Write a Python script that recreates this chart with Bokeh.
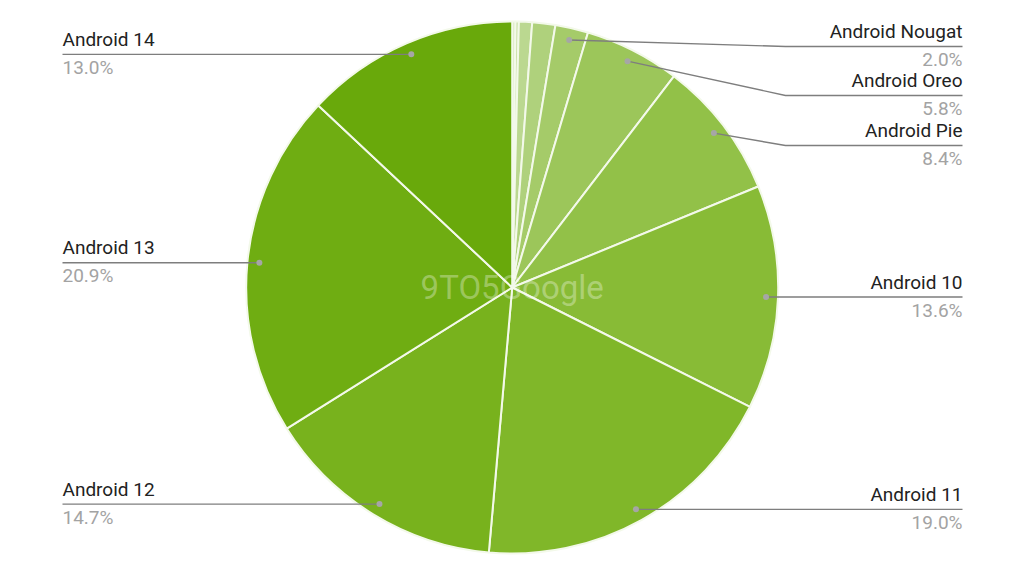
import numpy as np
from bokeh.plotting import figure
from bokeh.models import Range1d, ColumnDataSource
from bokeh.core.properties import value
from bokeh.embed import file_html
from bokeh.resources import INLINE

# ---- data ----
versions = ["Android Jelly Bean", "Android KitKat", "Android Lollipop", "Android Marshmallow",
            "Android Nougat", "Android Oreo", "Android Pie", "Android 10", "Android 11",
            "Android 12", "Android 13", "Android 14"]
shares = [0.2, 0.2, 0.8, 1.4, 2.0, 5.8, 8.4, 13.6, 19.0, 14.7, 20.9, 13.0]
labeled = [False, False, False, False, True, True, True, True, True, True, True, True]
colors = ["#d6e8bd", "#c9e0a6", "#bbd890", "#afd17c", "#a5cb69", "#9cc65a",
          "#92c148", "#88bb36", "#80b729", "#78b21d", "#6fad12", "#69a90b"]

# ---- layout (image pixel coordinates) ----
W, H = 1008, 560
IMG_H = 576
cx, cy_img, R = 511.7, 287.0, 266.0
dot_frac = 0.955
left_x, right_x, bend_x = 62, 962, 785
label_y_override = {"Android Nougat": 46, "Android Oreo": 95, "Android Pie": 145}

cy = IMG_H - cy_img

p = figure(width=W, height=H, output_backend="svg", toolbar_location=None,
           x_range=Range1d(0, W), y_range=Range1d(IMG_H - H, IMG_H),
           x_axis_type=None, y_axis_type=None, min_border=0,
           background_fill_color="white", border_fill_color="white")
p.grid.visible = False
p.outline_line_color = None

fr = np.array(shares) / sum(shares)
cum = np.cumsum(fr)
starts = np.pi / 2 - 2 * np.pi * (cum - fr)
ends = np.pi / 2 - 2 * np.pi * cum

src = ColumnDataSource(dict(start=starts, end=ends, color=colors, name=versions))
p.wedge(x=cx, y=cy, radius=R, start_angle="start", end_angle="end", direction="clock",
        fill_color="color", line_color="#f3f9ea", line_width=2, source=src)

# watermark
p.text(x=[cx], y=[cy], text=["9TO5Google"], text_align="center", text_baseline="middle",
       text_font=value("Roboto"), text_font_size="33px", text_color="white", text_alpha=0.33)

xs, ys = [], []
dx, dy = [], []
lab_x, lab_y, lab_t, lab_a = [], [], [], []
pct_x, pct_y, pct_t, pct_a = [], [], [], []
for name, v, f, c, show in zip(versions, shares, fr, cum, labeled):
    if not show:
        continue
    theta = 2 * np.pi * (c - f / 2)
    px = cx + dot_frac * R * np.sin(theta)
    py = cy + dot_frac * R * np.cos(theta)
    left = theta > np.pi
    if name in label_y_override:
        ly = IMG_H - label_y_override[name]
    else:
        ly = py
    if left:
        xs.append([px, left_x]); ys.append([py, ly])
        tx, al = left_x, "left"
    else:
        xs.append([px, bend_x, right_x]); ys.append([py, ly, ly])
        tx, al = right_x, "right"
    dx.append(px); dy.append(py)
    lab_x.append(tx); lab_y.append(ly + 15); lab_t.append(name); lab_a.append(al)
    pct_x.append(tx); pct_y.append(ly - 13); pct_t.append(f"{v:.1f}%"); pct_a.append(al)

p.multi_line(xs=xs, ys=ys, line_color="#7e7e7e", line_width=1.4)
p.scatter(x=dx, y=dy, size=6, fill_color="#a6a6a6", line_color=None)

p.text(x="x", y="y", text="t", text_align="a", text_baseline="alphabetic",
       source=ColumnDataSource(dict(x=lab_x, y=lab_y, t=lab_t, a=lab_a)),
       text_font=value("Roboto"), text_font_size="19px", text_color="#222222")
p.text(x="x", y="y", text="t", text_align="a", text_baseline="alphabetic",
       source=ColumnDataSource(dict(x=pct_x, y=pct_y, t=pct_t, a=pct_a)),
       text_font=value("Roboto"), text_font_size="19px", text_color="#a3a3a3")

open("out.html", "w").write(file_html(p, INLINE))
